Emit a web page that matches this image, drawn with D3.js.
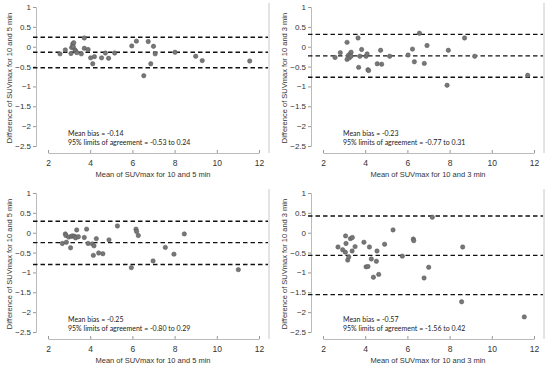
<!DOCTYPE html>
<html>
<head>
<meta charset="utf-8">
<script src="https://cdn.jsdelivr.net/npm/d3@7"></script>
<style>
body { margin: 0; background: #fff; }
text { font-family: "Liberation Sans", Arial, sans-serif; fill: #333; }
.note { font-family: Lato, "Open Sans", sans-serif; fill: #222; }
</style>
</head>
<body>
<script>
// mean / difference pairs for each panel
var p1Mean = [2.57,2.82,3.09,3.12,3.17,3.22,3.2,3.28,3.31,3.37,3.58,3.72,3.72,3.9,4.02,4.12,4.2,4.54,4.72,4.87,5.16,5.97,6.19,6.54,6.75,6.87,7.0,7.08,8.02,9.0,9.31,11.56];
var p1Diff = [-0.18,-0.08,-0.17,-0.02,0.07,0.10,0.0,-0.08,-0.11,-0.15,-0.18,0.22,-0.04,-0.07,-0.28,-0.43,-0.25,-0.28,-0.16,-0.29,-0.16,0.02,0.14,-0.73,0.13,-0.43,0.01,-0.18,-0.14,-0.24,-0.35,-0.36];

var p2Mean = [2.57,2.82,3.14,3.14,3.2,3.25,3.28,3.33,3.33,3.66,3.69,3.75,3.83,4.04,4.09,4.13,4.16,4.57,4.73,4.78,5.16,6.03,6.24,6.33,6.57,6.8,6.93,7.94,7.88,8.71,9.19,11.7];
var p2Diff = [-0.27,-0.15,0.11,-0.32,-0.22,-0.28,-0.18,-0.14,-0.24,0.22,-0.52,-0.24,-0.07,-0.24,-0.18,-0.58,-0.6,-0.43,-0.09,-0.44,-0.24,-0.21,-0.06,-0.38,0.34,-0.42,0.03,-0.09,-0.97,0.22,-0.24,-0.72];

var p3Mean = [2.68,2.82,2.85,2.87,2.98,3.07,3.11,3.18,3.26,3.31,3.36,3.44,3.72,3.83,3.9,4.1,4.18,4.15,4.29,4.4,4.6,4.89,5.29,5.95,6.17,6.2,6.28,6.98,7.56,7.97,8.46,11.02];
var p3Diff = [-0.27,-0.03,-0.07,-0.24,-0.11,-0.38,-0.09,-0.08,-0.09,-0.13,0.07,-0.1,-0.12,0.09,-0.27,-0.28,-0.33,-0.57,-0.15,-0.51,-0.53,-0.18,0.17,-0.88,0.09,0.03,-0.07,-0.71,-0.37,-0.54,-0.03,-0.93];

var p4Mean = [2.71,2.93,3.06,3.07,3.09,3.17,3.22,3.3,3.39,3.38,3.52,3.94,4.04,4.13,4.2,4.29,4.39,4.53,4.56,4.64,4.92,5.32,5.76,6.28,6.3,6.79,7.01,7.18,8.57,8.62,11.54];
var p4Diff = [-0.36,-0.43,-0.49,-0.08,-0.27,-0.69,-0.61,-0.15,-0.12,-0.46,-0.35,-0.24,-0.86,-0.85,-0.36,-0.66,-1.12,-0.72,-0.46,-1.05,-0.29,0.07,-0.59,-0.16,-0.2,-1.14,-0.87,0.39,-1.74,-0.36,-2.12];

// bias and limits of agreement: [upper, mean, lower]
var limits = [[0.24,-0.14,-0.53],[0.31,-0.23,-0.77],[0.29,-0.25,-0.80],[0.42,-0.57,-1.56]];
var biasText = ["-0.14","-0.23","-0.25","-0.57"];
var loaText = ["-0.53 to 0.24","-0.77 to 0.31","-0.80 to 0.29","-1.56 to 0.42"];
var pairLabel = ["10 and 5 min","10 and 3 min","10 and 5 min","10 and 3 min"];

var xTicks = [2,4,6,8,10,12];
var yTicks = [1,0.5,0,-0.5,-1,-1.5,-2,-2.5];

var means = [p1Mean,p2Mean,p3Mean,p4Mean];
var diffs = [p1Diff,p2Diff,p3Diff,p4Diff];
var offsets = [[0,0],[275,0],[0,186],[275,186]];

var svg = d3.select("body").append("svg")
	.attr("width", 550)
	.attr("height", 372);

var x = d3.scaleLinear().domain([2,12]).range([48,259]);
var y = d3.scaleLinear().domain([1,-2.5]).range([7,146]);

function panel(i) {
	var g = svg.append("g").attr("transform", "translate(" + offsets[i][0] + "," + offsets[i][1] + ")");

	//bordo destro
	g.append("line")
		.attr("x1", 269).attr("x2", 269)
		.attr("y1", 3).attr("y2", 153)
		.attr("stroke", "#c8c8c8").attr("stroke-width", 1);

	//asse y
	var ay = g.append("g").attr("transform", "translate(36,0)")
		.call(d3.axisLeft(y).tickValues(yTicks).tickSize(3).tickPadding(2).tickFormat(d3.format("")));
	ay.select(".domain").attr("stroke", "#bbb");
	ay.selectAll(".tick line").attr("stroke", "#999");
	ay.selectAll("text").style("font-size", "8px").attr("fill", "#333");

	//asse x
	var ax = g.append("g").attr("transform", "translate(0,153)")
		.call(d3.axisBottom(x).tickValues(xTicks).tickSizeInner(-3).tickSizeOuter(0).tickPadding(7));
	ax.select(".domain").attr("stroke", "#bbb");
	ax.selectAll(".tick line").attr("stroke", "#999");
	ax.selectAll("text").style("font-size", "8.5px").attr("fill", "#333");

	//linee tratteggiate
	g.selectAll(".loa")
		.data(limits[i])
		.enter()
		.append("line")
		.attr("x1", 33).attr("x2", 268)
		.attr("y1", function (d) { return y(d) })
		.attr("y2", function (d) { return y(d) })
		.attr("stroke", "#111")
		.attr("stroke-width", 1.4)
		.attr("stroke-dasharray", "4.5,3");

	//punti
	g.selectAll(".pt")
		.data(means[i])
		.enter()
		.append("circle")
		.attr("cx", function (d) { return x(d) })
		.attr("cy", function (d, j) { return y(diffs[i][j]) })
		.attr("r", 2.2)
		.attr("fill", "#777")
		.attr("stroke", "#555")
		.attr("stroke-width", 0.5);

	//titoli assi
	g.append("text")
		.attr("x", 153).attr("y", 177)
		.attr("text-anchor", "middle")
		.style("font-size", "7.5px")
		.text("Mean of SUVmax for " + pairLabel[i]);
	g.append("text")
		.attr("transform", "translate(12,78) rotate(-90)")
		.attr("text-anchor", "middle")
		.style("font-size", "7.5px")
		.text("Difference of SUVmax for " + pairLabel[i]);

	//annotazioni
	g.append("text").attr("class", "note")
		.attr("x", 68).attr("y", 135.5)
		.style("font-size", "7px")
		.text("Mean bias = " + biasText[i]);
	g.append("text").attr("class", "note")
		.attr("x", 68).attr("y", 144.5)
		.style("font-size", "7px")
		.text("95% limits of agreement = " + loaText[i]);
}

for (var i = 0; i < 4; i++) panel(i);
</script>
</body>
</html>
